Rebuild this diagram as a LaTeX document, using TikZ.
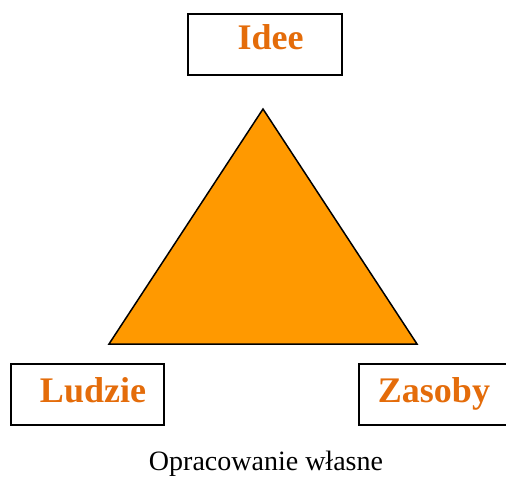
\documentclass[tikz,border=0pt]{standalone}
\usepackage{fontspec}
\setmainfont{Liberation Serif}
\usetikzlibrary{calc}

\definecolor{txtorange}{HTML}{E46C0A}
\definecolor{triorange}{HTML}{FF9900}

\begin{document}
\begin{tikzpicture}[
		x=1pt,y=-1pt,
		semithick,
		box/.style={rectangle,draw=black,line width=1.5pt,inner sep=0pt},
		lbl/.style={anchor=base,inner sep=0pt,text=txtorange,font=\fontsize{36}{40}\selectfont\bfseries}
		]
		\useasboundingbox (0,0) rectangle (506,477);
		\node[box,minimum width=154pt,minimum height=61pt](idee) at (265,44.5){};
		\node[box,minimum width=153pt,minimum height=61pt](ludzie) at (87.5,394.5){};
		\node[box,minimum width=154pt,minimum height=61pt](zasoby) at (436,394.5){};
		\node[lbl](ideetxt) at (270.5,49){Idee};
		\node[lbl](ludzietxt) at (93,402){Ludzie};
		\node[lbl](zasobytxt) at (434,402){Zasoby};
		
		\coordinate (top) at (263,109);
		\coordinate (left) at (109,344);
		\coordinate (right) at (417,344);
		\path[draw=black,fill=triorange,line width=1.5pt,line join=miter] (top) -- (left) -- (right) -- cycle;
		
		\node[anchor=base,inner sep=0pt,font=\fontsize{28}{32}\selectfont](zrodlo) at (266,470){Opracowanie własne};
		
		
		\end{tikzpicture}
\end{document}
